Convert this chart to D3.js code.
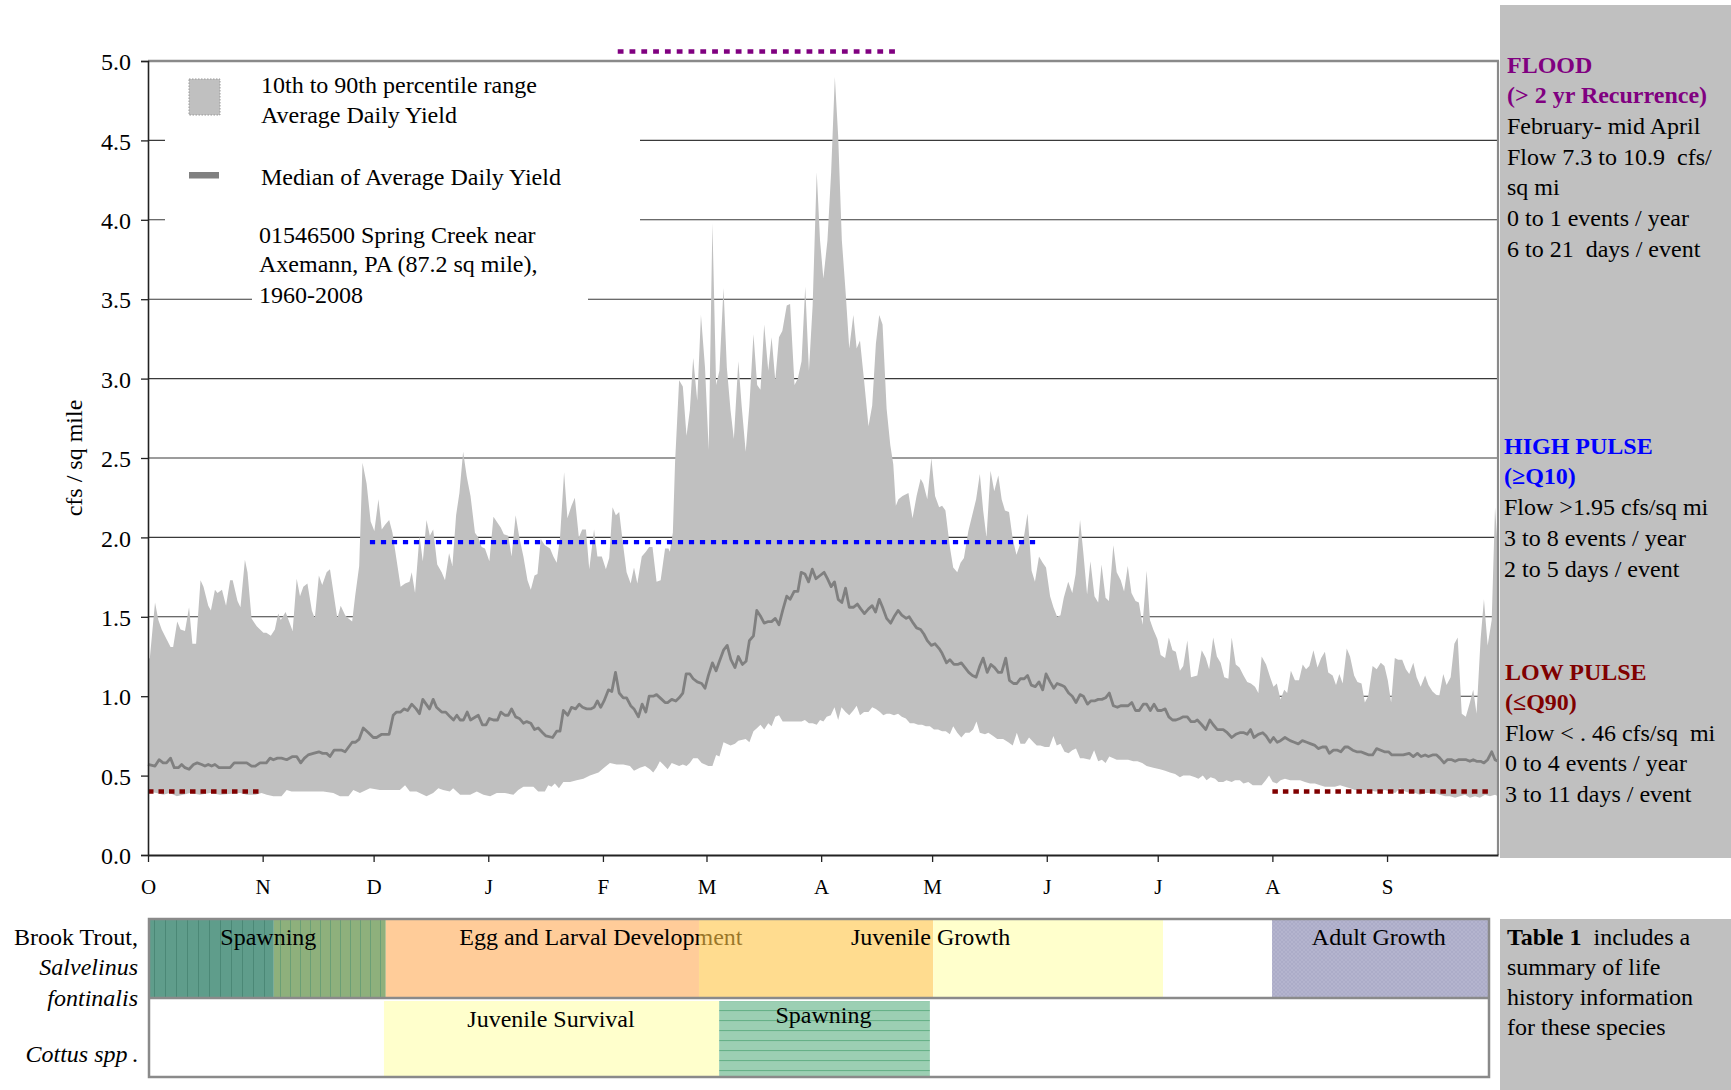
<!DOCTYPE html>
<html><head><meta charset="utf-8">
<script src="https://cdn.jsdelivr.net/npm/d3@7"></script>
<style>
html,body{margin:0;padding:0;background:#fff;}
svg text{font-family:"Liberation Serif","Times New Roman",serif;white-space:pre;}
</style></head>
<body><svg id="c" width="1731" height="1090"></svg>
<script>
// ---------------- DATA ----------------
const months = ["O","N","D","J","F","M","A","M","J","J","A","S"];
const monthStartDay = [0,31,61,92,123,151,182,212,243,273,304,335];
const yTicks = [0,0.5,1,1.5,2,2.5,3,3.5,4,4.5,5];

// 90th percentile (upper edge) [water-year day, cfs/sq mi]
const p90 = [[0,1.23],[0.5,1.24],[1.9,1.59],[2.8,1.48],[3.7,1.42],[5,1.36],[6.1,1.31],[6.8,1.31],[7.9,1.47],[8.8,1.42],[10,1.41],[11.1,1.56],[12,1.33],[13,1.33],[14.2,1.73],[15,1.69],[16.3,1.57],[17,1.54],[18.1,1.67],[18.8,1.65],[20,1.67],[21.1,1.57],[22.2,1.73],[22.9,1.73],[24.2,1.6],[25,1.56],[26.2,1.86],[26.9,1.78],[28,1.49],[29.4,1.44],[31.2,1.4],[32,1.4],[33.2,1.38],[34.3,1.42],[35.2,1.52],[35.9,1.48],[37.2,1.53],[39.1,1.41],[40.2,1.74],[41.1,1.63],[42,1.69],[43.1,1.71],[44.3,1.54],[45.1,1.49],[46.2,1.76],[47.1,1.7],[48.3,1.78],[49.2,1.8],[51.2,1.49],[52.1,1.57],[53.3,1.51],[54.2,1.49],[55.2,1.47],[56,1.63],[57.1,1.82],[58,2.47],[59.1,2.34],[60.2,2.1],[61.2,2.04],[62.3,2.24],[63.2,2.05],[64.1,2.08],[65.2,2.11],[66.1,2.03],[67.2,1.86],[68.3,1.69],[69.5,1.71],[70.7,1.72],[71.3,1.78],[72.2,1.65],[73.4,2.01],[74.3,1.85],[75.3,2.11],[76.2,2.01],[77.1,2.05],[78.2,1.83],[79.4,1.78],[80.3,1.73],[81.4,1.9],[82.3,1.82],[83.3,2.14],[84.2,2.28],[85.2,2.54],[86.2,2.38],[87.2,2.26],[88.4,2.03],[89.3,2],[90.2,1.94],[91.1,1.93],[92.3,1.85],[93.4,2.13],[95.4,2.06],[96.2,2.02],[97.4,2.01],[98.3,1.88],[99.4,2.14],[100.4,2],[101.5,1.88],[102.6,1.73],[103.5,1.67],[104.5,1.76],[105.3,1.77],[106.2,1.99],[107.3,1.95],[108.7,1.93],[109.6,1.88],[110.5,1.84],[111.4,2],[112.5,2.41],[113.4,2.12],[114.5,2.2],[115.4,2.25],[116.5,2],[117.4,2.05],[118.4,2.05],[119.3,1.8],[120.6,2.05],[121.5,1.88],[122.7,1.88],[123.8,1.8],[124.7,1.87],[125.6,2.19],[126.5,2.14],[127.4,2.16],[128.3,1.98],[129.4,1.78],[130.5,1.71],[131.4,1.81],[132.3,1.71],[133.5,1.88],[134.6,1.91],[135.5,1.94],[136.4,1.94],[137.5,1.72],[138.6,1.73],[139.8,1.93],[140.7,1.93],[141.1,1.91],[141.9,2.03],[142.5,2.47],[143.6,2.99],[144.6,2.95],[145.6,2.64],[146.5,2.8],[147.4,3.13],[148.5,2.86],[149.5,3.4],[150.6,3.07],[151.6,2.55],[152.6,3.98],[153.6,2.96],[154.5,3.05],[155.6,3.57],[156.5,3.07],[157.5,2.8],[158.4,2.62],[159.6,3.11],[160.5,2.83],[161.6,2.54],[162.6,2.83],[163.7,3.28],[164.7,2.96],[165.6,2.93],[166.6,3.34],[167.7,3.05],[168.6,3.26],[169.6,2.99],[170.6,3.26],[171.5,3.3],[172.7,3.46],[173.6,3.47],[174.8,2.96],[175.7,3],[176.7,3.11],[177.7,3.58],[178.7,3.05],[179.7,3.46],[180.8,4.3],[181.7,3.87],[182.6,3.63],[183.7,3.87],[184.7,4.3],[185.7,4.9],[186.6,4.53],[187.6,3.87],[188.6,3.55],[189.6,3.19],[190.7,3.4],[191.6,3.19],[192.5,3.24],[193.6,2.99],[194.8,2.7],[195.8,2.83],[196.8,3.22],[197.7,3.4],[198.6,3.34],[199.7,2.81],[200.7,2.58],[201.5,2.46],[202.2,2.2],[202.9,2.24],[204,2.26],[205.6,2.28],[206.7,2.12],[207.8,2.26],[208.9,2.37],[209.6,2.34],[210.7,2.24],[211.8,2.5],[212.8,2.26],[213.9,2.19],[214.7,2.2],[215.6,2.17],[216.8,1.94],[217.7,1.81],[218.8,1.78],[219.7,1.84],[220.6,1.87],[221.8,2.04],[223.9,2.24],[224.9,2.4],[225.8,2.17],[226.7,2],[227.8,2.42],[228.8,2.29],[229.9,2.39],[230.8,2.24],[231.7,2.17],[232.8,2.16],[233.8,1.99],[234.8,1.89],[235.7,1.95],[236.8,2],[237.8,2.15],[238.9,1.79],[239.8,1.72],[240.9,1.88],[241.9,1.84],[242.8,1.81],[243.9,1.63],[244.8,1.56],[245.8,1.5],[246.7,1.51],[247.6,1.62],[248.8,1.72],[249.9,1.65],[250.8,1.77],[252,2.11],[252.9,1.9],[253.9,1.64],[254.8,1.85],[255.9,1.63],[256.9,1.59],[257.8,1.83],[258.9,1.62],[259.8,1.6],[261,1.95],[261.9,1.78],[263,1.73],[263.9,1.66],[264.9,1.82],[265.9,1.65],[267,1.6],[267.9,1.59],[268.9,1.45],[270,1.79],[270.9,1.48],[271.8,1.42],[272.9,1.36],[273.8,1.26],[275,1.24],[276,1.37],[277,1.29],[277.9,1.28],[279,1.16],[279.9,1.19],[281,1.35],[282,1.12],[283.7,1.13],[284.9,1.29],[286,1.24],[286.9,1.17],[288,1.37],[289,1.25],[290,1.21],[291,1.12],[292.1,1.11],[293,1.37],[294.1,1.2],[295.1,1.18],[296.2,1.13],[297.2,1.09],[298.2,1.08],[299.3,1.06],[300.2,1.02],[301.1,1.25],[302.3,1.2],[303.4,1.12],[304.3,1.06],[305.2,1.08],[306.2,0.98],[307.2,1.04],[308,1.02],[309,1.16],[310.1,1.1],[311.2,1.1],[312.2,1.2],[313.1,1.17],[314,1.19],[315.1,1.29],[316.2,1.18],[317.2,1.24],[318.2,1.28],[319.1,1.15],[320.3,1.13],[321.2,1.07],[322.1,1.14],[323,1.08],[324.1,1.3],[325,1.25],[326.1,1.13],[327,1.09],[328.1,1.08],[329,0.96],[329.9,1],[331.1,1.19],[332.2,1.17],[333.3,1.21],[334.3,1.19],[335.2,1.1],[336.1,0.96],[337.1,1.24],[338,1.23],[339.1,1.23],[340.1,1.17],[341,1.14],[342.1,1.21],[343,1.12],[344.1,1.06],[345.3,1.13],[346.2,1.07],[347.3,1.03],[348.2,1.01],[349.1,1],[350.2,1.14],[351.1,1.07],[352.2,1.12],[353.2,1.33],[354.1,1.37],[355.2,0.89],[356.3,0.87],[357.4,0.96],[358.3,1.04],[359.2,0.89],[360.3,1.36],[361.2,1.61],[362.2,1.32],[363.3,1.48],[364.2,2.19],[365,1.9]];

// 10th percentile (lower edge)
const p10 = [[0,0.4],[2.3,0.39],[4.1,0.38],[5.9,0.39],[7.8,0.37],[11.4,0.39],[14.1,0.38],[16.8,0.39],[19.5,0.38],[24.9,0.39],[26.7,0.38],[29,0.38],[30.7,0.39],[32.1,0.38],[33.9,0.37],[36.1,0.37],[37.5,0.41],[38.8,0.4],[40.2,0.4],[42,0.4],[43.8,0.4],[47.4,0.4],[50.1,0.39],[51.9,0.37],[54.2,0.37],[55.5,0.41],[57.3,0.39],[60,0.42],[62.7,0.41],[66.3,0.41],[68.1,0.41],[69.5,0.44],[70.8,0.4],[72.6,0.4],[75.3,0.37],[77.1,0.39],[78.5,0.42],[79.8,0.41],[81.6,0.4],[82.5,0.42],[84.4,0.38],[87.1,0.38],[88.9,0.4],[90.7,0.38],[92.5,0.37],[94.3,0.39],[96.5,0.39],[98.8,0.38],[100.1,0.41],[101.5,0.43],[104.2,0.43],[105.5,0.4],[107.3,0.4],[108.2,0.44],[109.1,0.43],[110,0.45],[111.1,0.42],[112.3,0.46],[114.1,0.46],[115.9,0.47],[117.7,0.48],[119.5,0.5],[121.8,0.52],[123.3,0.55],[124.9,0.58],[126.7,0.57],[128.5,0.57],[130.3,0.56],[131.4,0.53],[133,0.55],[134.4,0.56],[135.7,0.54],[136.6,0.52],[137.5,0.55],[138.4,0.59],[139.3,0.57],[140.5,0.54],[141.6,0.58],[143.6,0.56],[144.6,0.57],[145.6,0.56],[146.5,0.58],[147.4,0.61],[148.6,0.61],[149.7,0.58],[151.5,0.56],[152.6,0.56],[153.6,0.63],[154.5,0.62],[155.6,0.71],[157.5,0.69],[158.7,0.7],[159.6,0.72],[161.6,0.73],[162.6,0.71],[163.7,0.78],[164.7,0.8],[165.6,0.82],[166.6,0.79],[167.7,0.83],[168.6,0.81],[169.6,0.87],[170.6,0.88],[171.6,0.84],[172.7,0.84],[176.7,0.84],[177.6,0.85],[178.7,0.83],[179.7,0.83],[180.8,0.82],[181.7,0.85],[182.6,0.84],[183.5,0.87],[184.6,0.88],[185.6,0.93],[186.6,0.85],[187.5,0.93],[188.6,0.9],[189.6,0.88],[190.7,0.91],[191.6,0.94],[192.5,0.88],[193.6,0.9],[194.8,0.9],[195.8,0.93],[196.8,0.92],[197.9,0.9],[198.8,0.88],[199.7,0.89],[200.6,0.89],[201.7,0.88],[202.8,0.89],[203.8,0.87],[204.9,0.86],[206,0.83],[207.1,0.83],[208.2,0.82],[209.3,0.82],[210.3,0.81],[211.4,0.81],[212.5,0.79],[213.6,0.79],[214.7,0.78],[215.7,0.78],[216.8,0.76],[217.7,0.81],[218.8,0.77],[219.9,0.74],[221,0.77],[222.1,0.77],[223.1,0.79],[224,0.84],[224.9,0.77],[226.3,0.76],[227.2,0.77],[228.5,0.75],[229.6,0.73],[231.2,0.73],[232.6,0.71],[233.8,0.69],[234.9,0.77],[235.9,0.7],[237.1,0.7],[238.2,0.74],[239.4,0.71],[240.3,0.69],[241.3,0.69],[242.5,0.68],[243.7,0.68],[244.8,0.75],[245.7,0.69],[246.7,0.7],[247.8,0.65],[248.9,0.64],[249.9,0.66],[250.9,0.67],[252,0.61],[252.9,0.61],[254.7,0.6],[255.8,0.66],[256.9,0.59],[257.9,0.6],[258.9,0.58],[259.9,0.62],[261,0.61],[261.9,0.6],[263.7,0.6],[265,0.6],[266.4,0.59],[267.5,0.59],[268.8,0.58],[270,0.56],[271.8,0.55],[273.6,0.54],[275,0.53],[276.3,0.52],[277.7,0.51],[279,0.49],[279.9,0.5],[281.7,0.5],[283.1,0.49],[284,0.48],[285.2,0.5],[286.2,0.47],[287.3,0.49],[288.5,0.48],[289.4,0.46],[290.7,0.46],[291.6,0.47],[293,0.46],[293.9,0.47],[295.2,0.47],[296.2,0.45],[297.5,0.46],[298.7,0.44],[299.8,0.44],[301.1,0.44],[302.2,0.47],[303.1,0.5],[304.1,0.46],[305.2,0.45],[306.2,0.47],[307.4,0.48],[308.8,0.47],[310.1,0.47],[311.5,0.47],[312.8,0.46],[314.2,0.45],[315.5,0.45],[316.9,0.44],[318.2,0.43],[319.6,0.43],[320.9,0.43],[322.3,0.44],[323.6,0.43],[325,0.42],[326.3,0.41],[327.7,0.41],[329,0.41],[330.4,0.41],[331.7,0.4],[333.1,0.4],[334.4,0.41],[335.8,0.4],[337.2,0.39],[338.5,0.42],[339.9,0.4],[341.2,0.39],[342.6,0.39],[343.9,0.38],[345.3,0.39],[346.6,0.39],[348,0.39],[349.3,0.38],[350.7,0.37],[352,0.37],[353.4,0.36],[354.7,0.37],[356.1,0.38],[357.4,0.36],[358.8,0.37],[360.1,0.36],[361.5,0.38],[362.8,0.37],[364.2,0.38],[365,0.37]];

// median of average daily yield
const median = [[0,0.57],[1.9,0.56],[3,0.6],[4.1,0.58],[5,0.58],[6.1,0.61],[7.1,0.55],[8.2,0.55],[9.1,0.57],[10,0.55],[11.1,0.54],[12.3,0.57],[13.3,0.58],[14.5,0.57],[15.4,0.56],[16.3,0.57],[17.2,0.56],[18.1,0.57],[19.2,0.55],[22.2,0.55],[23.3,0.58],[26.7,0.58],[28,0.56],[29,0.56],[30.3,0.58],[32,0.58],[33,0.61],[33.9,0.6],[35,0.61],[36.1,0.61],[37.5,0.6],[39.1,0.62],[40.2,0.62],[41.3,0.58],[42.3,0.61],[43.3,0.63],[44.7,0.64],[46.2,0.65],[47.2,0.64],[48.3,0.64],[49.2,0.62],[50.3,0.66],[52.4,0.66],[53.3,0.65],[55.2,0.71],[56.1,0.71],[57.1,0.73],[58.2,0.8],[59.6,0.77],[60.9,0.74],[61.8,0.74],[63.2,0.76],[65.2,0.76],[66.3,0.88],[67.2,0.9],[68.3,0.9],[69.2,0.92],[70.2,0.91],[71.3,0.95],[72.5,0.92],[73.4,0.89],[74.3,0.98],[75.2,0.95],[76.1,0.92],[77.1,0.98],[78,0.93],[79.4,0.9],[80.5,0.9],[81.7,0.87],[82.6,0.85],[83.5,0.88],[84.4,0.85],[85.3,0.85],[86.3,0.9],[87.2,0.85],[89.3,0.88],[90.4,0.82],[91.4,0.82],[92.3,0.86],[93.4,0.85],[94.5,0.85],[95.4,0.9],[96.5,0.88],[97.4,0.88],[98.3,0.92],[99.4,0.87],[100.4,0.86],[101.5,0.83],[102.4,0.84],[103.5,0.83],[104.5,0.79],[105.5,0.8],[106.7,0.77],[107.6,0.75],[109.4,0.74],[110.5,0.78],[111.4,0.78],[112.3,0.91],[113.5,0.88],[114.5,0.93],[115.6,0.92],[116.6,0.95],[117.5,0.93],[118.6,0.92],[119.7,0.92],[120.6,0.93],[121.5,0.97],[122.4,0.93],[123.3,0.97],[124.5,1.04],[125.4,1.03],[126.4,1.15],[127.4,1.02],[128.5,0.99],[129.4,0.99],[130.5,0.94],[131.4,0.92],[132.6,0.87],[133.6,0.95],[134.6,0.9],[135.5,1],[136.6,1],[137.5,1.01],[138.9,0.98],[139.8,0.96],[140.5,0.96],[141.6,0.98],[142.7,0.97],[143.6,0.99],[144.6,1.02],[145.5,1.14],[146.5,1.14],[147.4,1.11],[148.5,1.09],[149.7,1.08],[150.6,1.05],[151.5,1.13],[152.6,1.21],[153.6,1.16],[154.5,1.22],[155.6,1.29],[156.6,1.32],[157.6,1.23],[158.7,1.18],[159.6,1.25],[160.7,1.2],[161.7,1.22],[162.6,1.35],[163.7,1.38],[164.6,1.54],[165.7,1.5],[166.6,1.46],[167.7,1.47],[168.6,1.47],[169.6,1.49],[170.6,1.45],[171.6,1.54],[172.7,1.63],[173.6,1.61],[174.7,1.66],[175.7,1.66],[176.6,1.78],[177.6,1.77],[178.6,1.72],[179.6,1.8],[180.6,1.74],[181.7,1.76],[182.8,1.78],[183.7,1.74],[184.7,1.69],[185.6,1.72],[186.6,1.61],[187.6,1.59],[188.6,1.68],[189.6,1.56],[190.7,1.56],[191.8,1.58],[192.7,1.55],[193.7,1.52],[194.8,1.55],[195.8,1.57],[196.7,1.53],[197.7,1.61],[198.6,1.56],[199.7,1.49],[200.8,1.46],[201.7,1.5],[202.8,1.54],[203.8,1.51],[205,1.49],[205.8,1.5],[206.9,1.46],[207.8,1.43],[208.9,1.42],[209.8,1.39],[210.7,1.35],[211.8,1.32],[212.8,1.33],[213.9,1.3],[214.7,1.27],[215.9,1.21],[216.8,1.23],[217.9,1.2],[218.9,1.2],[219.9,1.21],[220.9,1.18],[221.9,1.15],[222.9,1.13],[223.9,1.12],[224.9,1.19],[225.8,1.24],[226.9,1.15],[227.9,1.2],[228.9,1.18],[229.9,1.15],[230.8,1.15],[231.9,1.24],[232.9,1.1],[234,1.08],[234.9,1.08],[235.9,1.11],[236.9,1.11],[237.8,1.13],[238.8,1.07],[239.9,1.06],[240.9,1.09],[241.9,1.04],[242.8,1.14],[243.9,1.09],[244.9,1.05],[245.8,1.08],[246.9,1.07],[247.8,1.06],[248.9,1.02],[249.9,1],[250.9,0.96],[252,1.01],[252.9,1],[254,0.95],[254.9,0.97],[255.9,0.97],[256.9,0.98],[257.9,0.98],[258.9,0.99],[259.9,1.02],[261,0.94],[262.1,0.93],[263,0.94],[265,0.94],[266,0.96],[267,0.91],[268,0.91],[269.1,0.95],[270,0.95],[271,0.91],[272,0.95],[273,0.91],[274,0.91],[275,0.92],[276,0.87],[277,0.85],[277.9,0.85],[279,0.86],[279.9,0.87],[281,0.87],[282,0.84],[283,0.84],[283.7,0.85],[284.9,0.82],[286,0.79],[287.1,0.85],[288,0.82],[289.1,0.79],[290.7,0.79],[291.8,0.77],[293,0.74],[294.1,0.76],[295.2,0.77],[296.3,0.77],[297.2,0.76],[298.1,0.79],[299,0.74],[300.2,0.76],[301.4,0.77],[302.3,0.75],[303.4,0.71],[304.3,0.74],[305.3,0.71],[306.2,0.72],[307.4,0.74],[308.8,0.72],[309.9,0.71],[311,0.7],[312.1,0.72],[313.3,0.71],[314.4,0.7],[315.5,0.69],[316.4,0.67],[317.5,0.68],[318.5,0.68],[319.4,0.64],[320.5,0.66],[321.6,0.66],[322.5,0.65],[323.6,0.68],[324.5,0.68],[325.7,0.66],[326.8,0.65],[327.9,0.65],[329,0.64],[330.1,0.63],[331.1,0.63],[332.2,0.67],[333.3,0.66],[334.3,0.65],[335.4,0.65],[336.3,0.63],[337.6,0.63],[339.4,0.63],[341,0.64],[342.1,0.62],[343.2,0.64],[344.2,0.62],[345.3,0.63],[346.2,0.62],[347.3,0.63],[348.4,0.63],[349.3,0.61],[350.4,0.58],[351.3,0.6],[352.5,0.6],[353.4,0.59],[354.3,0.6],[355.4,0.6],[356.4,0.6],[357.4,0.59],[358.3,0.6],[359.2,0.59],[360.3,0.59],[361.2,0.58],[362.2,0.6],[363.3,0.65],[364.2,0.6],[365,0.59]];

// flow-event thresholds: [startDay, endDay], level
const floodDays = [127, 203];   const floodLevel = 5.06;
const highPulseDays = [60, 240]; const highPulseLevel = 1.97;
const lowPulseDaysA = [0, 30];   const lowPulseDaysB = [304, 363]; const lowPulseLevel = 0.40;

// life-history table (days in water year)
const troutSegments = [[0,34],[34,64.5],[64.5,149.8],[149.8,213.6],[213.6,276.2],[305.9,365]];
const troutLabels = ["Spawning","Egg and Larval Development","Juvenile Growth","Adult Growth"];
const troutLabelDays = [32.5,123.1,212.9,335];
const cottusSegments = [[64,155.3],[155.3,212.7]];
const cottusLabels = ["Juvenile Survival","Spawning"];
const cottusLabelDays = [109.5,183.7];

// ---------------- DRAW ----------------
const svg = d3.select("#c");
const x = d3.scaleLinear().domain([0,365]).range([148,1498]);
const y = d3.scaleLinear().domain([0,5]).range([855,61]);
const tx = d3.scaleLinear().domain([0,365]).range([149,1489]);
const FS = 24;

// defs patterns
const defs = svg.append("defs");
function pat(id,w,h,bg,lines){
  const p = defs.append("pattern").attr("id",id).attr("patternUnits","userSpaceOnUse").attr("width",w).attr("height",h);
  p.append("rect").attr("width",w).attr("height",h).attr("fill",bg);
  lines.forEach(l=>p.append("line").attr("x1",l[0]).attr("y1",l[1]).attr("x2",l[2]).attr("y2",l[3]).attr("stroke",l[4]).attr("stroke-width",l[5]));
}
pat("pDark",11,10,"#5F9D8B",[[0.5,0,0.5,10,"#4B8876",1]]);
pat("pOlive",10,10,"#8EB07C",[[0.5,0,0.5,10,"#6A9F76",1]]);
pat("pLav",4,4,"#B4B4CE",[[0,0,4,4,"#A6A6C4",0.6],[4,0,0,4,"#A6A6C4",0.6]]);
pat("pGreen",10,10,"#9CCFB3",[[0,0.5,10,0.5,"#67B188",1.2]]);

// right gray panels
svg.append("rect").attr("x",1500).attr("y",5).attr("width",231).attr("height",853).attr("fill","#C0C0C0");
svg.append("rect").attr("x",1500).attr("y",919).attr("width",231).attr("height",171).attr("fill","#C0C0C0");

// gridlines
svg.append("g").selectAll("line").data(yTicks.filter(v=>v>0&&v<5)).join("line")
  .attr("x1",x(0)).attr("x2",x(365)).attr("y1",d=>y(d)).attr("y2",d=>y(d))
  .attr("stroke","#3a3a3a").attr("stroke-width",1.1);

// area: gray up to p90, white up to p10
svg.append("path").datum(p90)
  .attr("d",d3.area().x(d=>x(d[0])).y0(y(0)).y1(d=>y(d[1])))
  .attr("fill","#C0C0C0");
svg.append("path").datum(p10)
  .attr("d",d3.area().x(d=>x(d[0])).y0(y(0)).y1(d=>y(d[1])))
  .attr("fill","#FFFFFF");

// median
svg.append("path").datum(median)
  .attr("d",d3.line().x(d=>x(d[0])).y(d=>y(d[1])))
  .attr("fill","none").attr("stroke","#808080").attr("stroke-width",2.8).attr("stroke-linejoin","round");

// threshold dotted lines
function dotted(days,level,color,w,dash){
  svg.append("line").attr("x1",x(days[0])).attr("x2",x(days[1])).attr("y1",y(level)).attr("y2",y(level))
    .attr("stroke",color).attr("stroke-width",w).attr("stroke-dasharray",dash);
}
dotted(floodDays,floodLevel,"#800080",4.5,"5.8 6");
dotted(highPulseDays,highPulseLevel,"#0000FF",4.4,"5.2 5.8");
dotted(lowPulseDaysA,lowPulseLevel,"#800000",4.5,"5.5 5");
dotted(lowPulseDaysB,lowPulseLevel,"#800000",4.5,"5.5 5");

// plot border (top, right)
svg.append("line").attr("x1",x(0)).attr("x2",x(365)+1).attr("y1",y(5)).attr("y2",y(5)).attr("stroke","#8a8a8a").attr("stroke-width",2.5);
svg.append("line").attr("x1",x(365)).attr("x2",x(365)).attr("y1",y(5)).attr("y2",y(0)).attr("stroke","#8a8a8a").attr("stroke-width",2.2);

// axes
const yAxis = svg.append("g").attr("transform",`translate(${x(0)},0)`)
  .call(d3.axisLeft(y).tickValues(yTicks).tickFormat(d3.format(".1f")).tickSize(7).tickPadding(10));
yAxis.select(".domain").attr("stroke","#222").attr("stroke-width",1.6);
yAxis.selectAll(".tick line").attr("stroke","#222").attr("stroke-width",1.3);
yAxis.selectAll(".tick text").attr("font-size",FS).attr("fill","#000").attr("font-family","Liberation Serif").attr("dy","0.36em");

const xAxis = svg.append("g").attr("transform",`translate(0,${y(0)})`)
  .call(d3.axisBottom(x).tickValues(monthStartDay).tickFormat((d,i)=>months[i]).tickSize(7).tickSizeOuter(0).tickPadding(17));
xAxis.select(".domain").attr("stroke","#222").attr("stroke-width",2);
xAxis.selectAll(".tick line").attr("stroke","#222").attr("stroke-width",1.3);
xAxis.selectAll(".tick text").attr("font-size",21).attr("fill","#000").attr("font-family","Liberation Serif");

// y-axis title
svg.append("text").attr("transform","translate(82,458) rotate(-90)").attr("text-anchor","middle")
  .attr("font-size",FS).text("cfs / sq mile");

// legend box
svg.append("rect").attr("x",165).attr("y",63).attr("width",475).attr("height",190).attr("fill","#fff");
svg.append("rect").attr("x",252).attr("y",250).attr("width",336).attr("height",62).attr("fill","#fff");
svg.append("rect").attr("x",189).attr("y",79).attr("width",31).attr("height",36).attr("fill","#C0C0C0")
  .attr("stroke","#999").attr("stroke-width",1).attr("stroke-dasharray","1.5 1.5");
svg.append("rect").attr("x",189).attr("y",172).attr("width",30).attr("height",6.5).attr("fill","#808080");
const legendLines = [["10th to 90th percentile range",261,93],["Average Daily Yield",261,123],["Median of Average Daily Yield",261,185],
  ["01546500 Spring Creek near",259,243],["Axemann, PA (87.2 sq mile),",259,272],["1960-2008",259,303]];
svg.append("g").selectAll("text").data(legendLines).join("text")
  .attr("x",d=>d[1]).attr("y",d=>d[2]).attr("font-size",FS).text(d=>d[0]);

// right panel text
function ptext(lines,x0,color){
  lines.forEach(l=>{
    svg.append("text").attr("x",x0).attr("y",l[1]).attr("font-size",FS)
      .attr("font-weight",l[2]?"bold":"normal").attr("fill",l[2]?color:"#000").text(l[0]);
  });
}
ptext([["FLOOD",73,1],["(> 2 yr Recurrence)",103,1],["February- mid April",134],["Flow 7.3 to 10.9  cfs/",165],["sq mi",195],["0 to 1 events / year",226],["6 to 21  days / event",257]],1507,"#800080");
ptext([["HIGH PULSE",454,1],["(≥Q10)",484,1],["Flow >1.95 cfs/sq mi",515],["3 to 8 events / year",546],["2 to 5 days / event",577]],1504,"#0000FF");
ptext([["LOW PULSE",680,1],["(≤Q90)",710,1],["Flow < . 46 cfs/sq  mi",741],["0 to 4 events / year",771],["3 to 11 days / event",802]],1505,"#800000");

// bottom-right note
const note = svg.append("text").attr("x",1507).attr("y",945).attr("font-size",FS);
note.append("tspan").attr("font-weight","bold").text("Table 1");
note.append("tspan").text("  includes a");
[["summary of life",975],["history information",1005],["for these species",1035]].forEach(l=>
  svg.append("text").attr("x",1507).attr("y",l[1]).attr("font-size",FS).text(l[0]));

// life-history table
const r1 = [919,998], r2 = [998,1077];
const troutFills = ["url(#pDark)","url(#pOlive)","#FFCC99","#FFC444","#FFFFCC","url(#pLav)"];
const troutOpac = [1,1,1,0.6,1,1];
function seg(s,row,fill,op){
  svg.append("rect").attr("x",tx(s[0])).attr("y",row[0]).attr("width",tx(s[1])-tx(s[0])).attr("height",row[1]-row[0])
    .attr("fill",fill).attr("fill-opacity",op);
}
[0,1,2].forEach(i=>seg(troutSegments[i],r1,troutFills[i],troutOpac[i]));
function tlabel(t,d,yy){ svg.append("text").attr("x",tx(d)).attr("y",yy).attr("text-anchor","middle").attr("font-size",FS).text(t); }
tlabel(troutLabels[0],troutLabelDays[0],945);
tlabel(troutLabels[1],troutLabelDays[1],945);
[3,4,5].forEach(i=>seg(troutSegments[i],r1,troutFills[i],troutOpac[i]));
tlabel(troutLabels[2],troutLabelDays[2],945);
tlabel(troutLabels[3],troutLabelDays[3],945);
const cottusFills = ["#FFFFCC","url(#pGreen)"];
cottusSegments.forEach((s,i)=>seg(s,[r2[0]+3,r2[1]],cottusFills[i],1));
tlabel(cottusLabels[0],cottusLabelDays[0],1027);
tlabel(cottusLabels[1],cottusLabelDays[1],1023);
// table borders
svg.append("rect").attr("x",tx(0)).attr("y",r1[0]).attr("width",tx(365)-tx(0)).attr("height",r2[1]-r1[0])
  .attr("fill","none").attr("stroke","#8a8a8a").attr("stroke-width",2.5);
svg.append("line").attr("x1",tx(0)).attr("x2",tx(365)).attr("y1",r1[1]).attr("y2",r1[1]).attr("stroke","#8a8a8a").attr("stroke-width",2.5);

// row labels
const rl = [["Brook Trout,",945,"normal"],["Salvelinus",975,"italic"],["fontinalis",1006,"italic"]];
rl.forEach(l=>svg.append("text").attr("x",138).attr("y",l[1]).attr("text-anchor","end").attr("font-size",FS).attr("font-style",l[2]).text(l[0]));
const ct = svg.append("text").attr("x",138).attr("y",1062).attr("text-anchor","end").attr("font-size",FS);
ct.append("tspan").attr("font-style","italic").text("Cottus spp");
ct.append("tspan").attr("font-size",18).text(" ");
ct.append("tspan").text(".");
</script></body></html>
